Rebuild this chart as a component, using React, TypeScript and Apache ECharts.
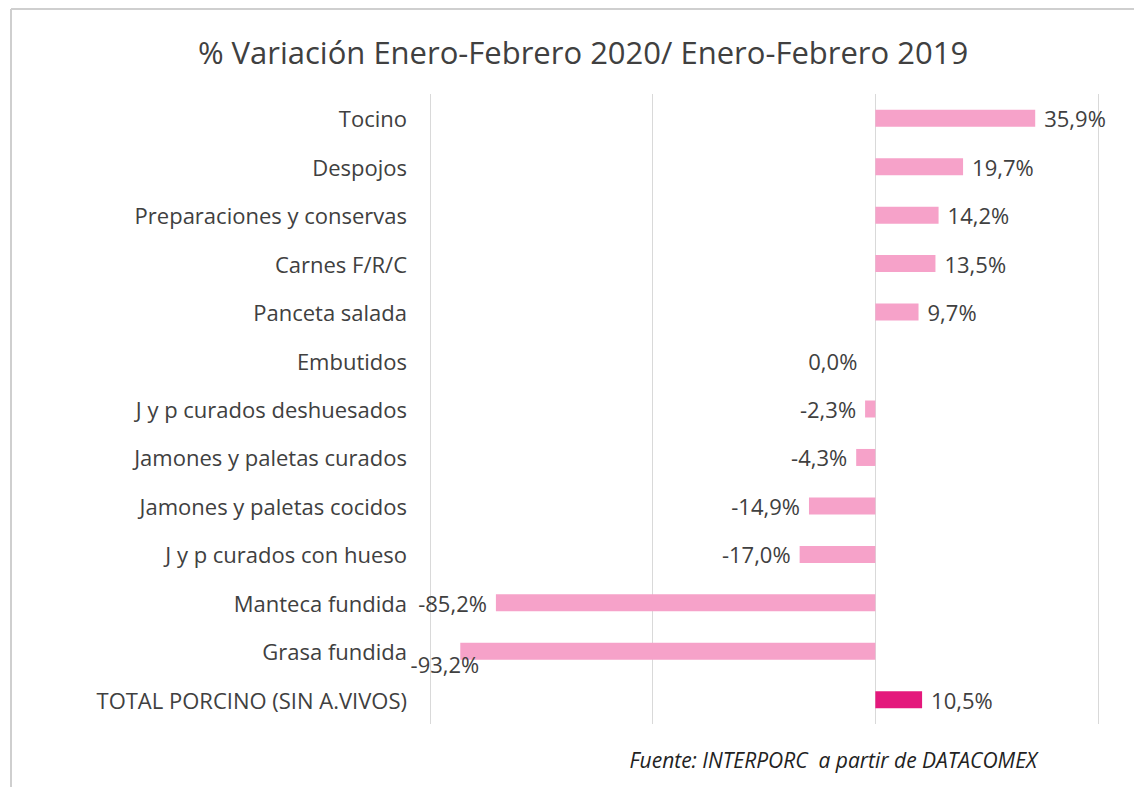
import React, { useEffect, useRef } from "react";
import * as echarts from "echarts";

const categories = [
  "Tocino",
  "Despojos",
  "Preparaciones y conservas",
  "Carnes F/R/C",
  "Panceta salada",
  "Embutidos",
  "J y p curados deshuesados",
  "Jamones y paletas curados",
  "Jamones y paletas cocidos",
  "J y p curados con hueso",
  "Manteca fundida",
  "Grasa fundida",
  "TOTAL PORCINO (SIN A.VIVOS)",
];
const values = [35.9, 19.7, 14.2, 13.5, 9.7, 0.0, -2.3, -4.3, -14.9, -17.0, -85.2, -93.2, 10.5];

const titleText = "% Variación Enero-Febrero 2020/ Enero-Febrero 2019";
const sourceText = "Fuente: INTERPORC  a partir de DATACOMEX";

const PINK = "#f6a2c9";
const MAGENTA = "#e4187c";
const FONT = "'Open Sans', Lato, sans-serif";

export default function App() {
  const ref = useRef<HTMLDivElement>(null);
  useEffect(() => {
    if (!ref.current) return;
    const chart = echarts.init(ref.current, null, { renderer: "svg" });
    const data = values.map((v, i) => {
      const isTotal = i === values.length - 1;
      const neg = v <= 0;
      const label: any = {
        position: neg ? "left" : "right",
      };
      if (categories[i] === "Grasa fundida") label.offset = [28, 13];
      if (v === 0) label.distance = 18;
      return {
        value: v,
        itemStyle: { color: isTotal ? MAGENTA : PINK },
        label,
      };
    });
    chart.setOption({
      animation: false,
      backgroundColor: "#ffffff",
      textStyle: { fontFamily: FONT },
      title: {
        text: titleText,
        left: 578,
        top: 31,
        textAlign: "center",
        textStyle: { fontFamily: FONT, fontSize: 31, fontWeight: "normal", color: "#404040" },
      },
      grid: { left: 430, right: 36, top: 94, bottom: 63, containLabel: false },
      xAxis: {
        type: "value",
        min: -100,
        max: 50,
        interval: 50,
        axisLabel: { show: false },
        axisLine: { show: false },
        axisTick: { show: false },
        splitLine: { show: true, lineStyle: { color: "#d9d9d9", width: 1 } },
      },
      yAxis: {
        type: "category",
        data: categories,
        inverse: true,
        axisLine: { show: false, onZero: false },
        axisTick: { show: false },
        axisLabel: { margin: 23, fontSize: 22, color: "#404040", fontFamily: FONT },
      },
      series: [
        {
          type: "bar",
          data,
          barWidth: 17,
          label: {
            show: true,
            distance: 9,
            fontSize: 22,
            color: "#404040",
            fontFamily: FONT,
            formatter: (p: any) => `${Number(p.value).toFixed(1).replace(".", ",")}%`,
          },
        },
      ],
      graphic: [
        {
          type: "line",
          shape: { x1: 11, y1: 9, x2: 1134, y2: 9 },
          style: { stroke: "#cfcfcf", lineWidth: 2 },
        },
        {
          type: "line",
          shape: { x1: 11, y1: 9, x2: 11, y2: 787 },
          style: { stroke: "#cfcfcf", lineWidth: 2 },
        },
        {
          type: "text",
          x: 1037,
          y: 760,
          style: {
            text: sourceText,
            align: "right",
            verticalAlign: "middle",
            font: `italic 21px ${FONT}`,
            fill: "#222222",
          },
        },
      ],
    });
    return () => chart.dispose();
  }, []);
  return (
    <div
      ref={ref}
      style={{ position: "fixed", left: 0, top: 0, width: 1134, height: 787 }}
    />
  );
}
